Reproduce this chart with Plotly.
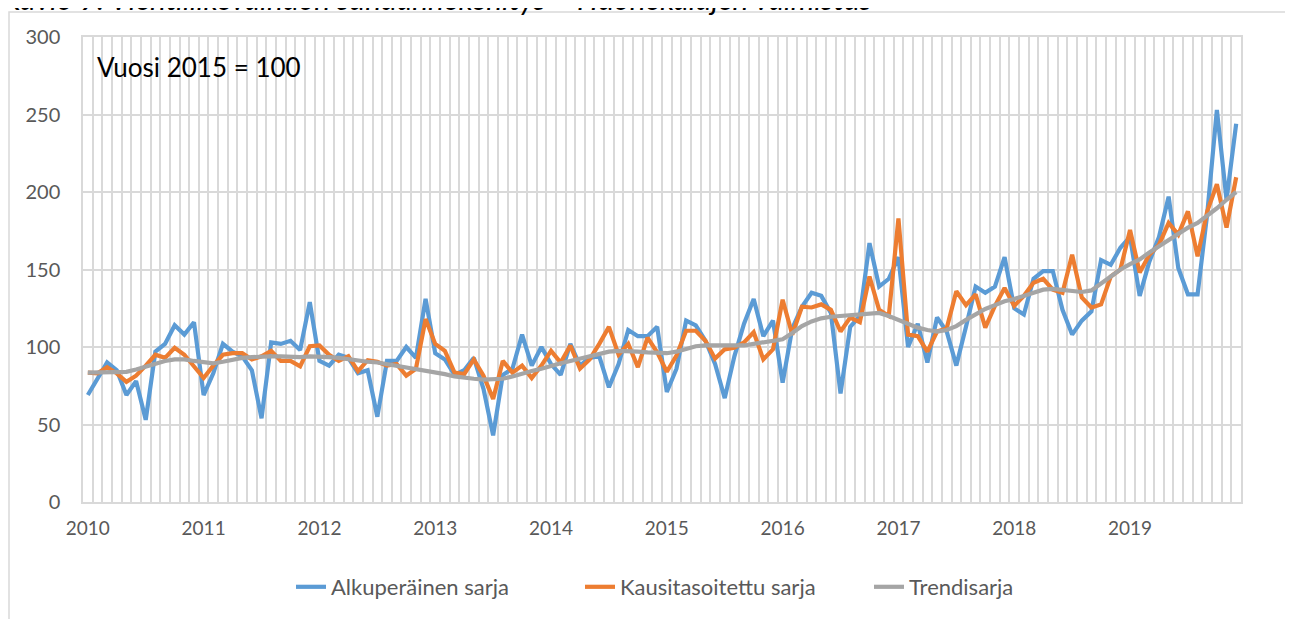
import plotly.graph_objects as go

years = ["2010", "2011", "2012", "2013", "2014", "2015", "2016", "2017", "2018", "2019"]
months = list(range(120))

alkuperainen = [
    69, 79, 90, 85, 69, 78, 53, 97, 102, 114, 108, 116,
    69, 83, 102, 97, 94, 85, 54, 103, 102, 104, 98, 129,
    91, 88, 95, 93, 83, 85, 55, 91, 91, 100, 93, 131,
    96, 92, 82, 85, 93, 73, 43, 82, 86, 108, 88, 100,
    89, 82, 102, 88, 93, 94, 74, 89, 111, 107, 107, 113,
    71, 86, 117, 114, 104, 89, 67, 94, 115, 131, 107, 117,
    77, 112, 126, 135, 133, 122, 70, 113, 120, 167, 139, 144,
    158, 100, 115, 90, 119, 110, 88, 113, 139, 135, 139, 158,
    125, 121, 144, 149, 149, 124, 108, 117, 123, 156, 153, 164,
    171, 133, 155, 171, 197, 151, 134, 134, 186, 253, 195, 244,
]

kausitasoitettu = [
    83.5, 83, 87, 83, 77.5, 81.5, 88, 95, 93, 99.5, 95, 88,
    80, 88, 95, 96, 96, 92, 94, 97.5, 91, 91, 87.5, 100.5,
    101, 95, 91, 94, 84.5, 91.5, 90.5, 88, 89, 81.5, 86, 118,
    102, 97.5, 83.5, 82.5, 92, 81.5, 66.5, 91, 83.5, 88, 80, 88,
    97.5, 90, 101, 86, 92, 102, 113, 95, 102, 87, 106, 96.5,
    84, 94.5, 110.5, 110.5, 104, 92.5, 98.5, 99.5, 103, 109.5, 92, 98.5,
    130.5, 108, 126, 125.5, 127.5, 124, 110, 119, 116, 145.5, 124, 120,
    183, 108, 107, 97, 110, 112, 136, 127, 134, 112.5, 126.5, 138,
    126.5, 133, 141.5, 144, 137, 135, 159.5, 132, 125.5, 127.5, 145.5, 150,
    175.5, 148, 159.5, 166, 180, 172.5, 187.5, 158.5, 187.5, 205, 177, 209.5,
]

trendi = [
    83.5, 83.5, 83.5, 83.5, 84, 85.5, 87.5, 89.5, 91, 92, 92, 91,
    90, 89.5, 90.5, 92, 93, 93.5, 94, 94, 94, 93.5, 93.5, 94,
    94, 93.5, 93, 92, 91.5, 90.5, 90, 89, 88, 87, 86, 85,
    83.5, 82.5, 81, 80, 79.5, 79, 79, 79.5, 81, 83, 84.5, 86,
    88, 89.5, 91, 92.5, 94, 95.5, 97, 97.5, 97.5, 97, 96.5, 96.5,
    96, 97, 99, 100.5, 101, 101, 100.5, 100.5, 101, 102, 103, 103.5,
    105, 109, 113.5, 116.5, 118.5, 119.5, 120, 120.5, 121, 122, 122, 120,
    117.5, 115, 112.5, 111, 110, 111, 113.5, 117.5, 121, 124.5, 127, 129.5,
    131, 133, 135, 137, 137.5, 137, 136, 135.5, 136.5, 141, 145.5, 150,
    153.5, 156.5, 161, 165, 169.5, 173.5, 177, 180, 184.5, 189.5, 195, 200,
]

series_names = ["Alkuperäinen sarja", "Kausitasoitettu sarja", "Trendisarja"]
series_colors = ["#5B9BD5", "#ED7D31", "#A5A5A5"]

OFF = 8  # page body margin
W, H = 1293 - OFF, 619 - OFF
# plot area in page pixels
L, R, T, B = 83, 1241, 37, 503
FONT = "Lato"
GRID = "#D9D9D9"


def px_x(p):
    return (p - L) / (R - L)


def px_y(p):
    return (B - p) / (B - T)


fig = go.Figure()
for name, vals, col in zip(series_names, [alkuperainen, kausitasoitettu, trendi], series_colors):
    fig.add_trace(go.Scatter(
        x=months, y=vals, mode="lines", name=name,
        line=dict(color=col, width=4.2),
    ))

fig.update_layout(
    width=W, height=H,
    margin=dict(l=L - OFF, r=1293 - R, t=T - OFF, b=619 - B),
    paper_bgcolor="white", plot_bgcolor="white",
    font=dict(family=FONT, color="#595959", size=19),
    showlegend=True,
    legend=dict(orientation="h", x=px_x(291), xanchor="left", y=px_y(587), yanchor="middle",
                font=dict(size=22, color="#595959"),
                entrywidth=244, entrywidthmode="pixels",
                tracegroupgap=0),
    xaxis=dict(
        range=[-0.5, 119.5], tickmode="array",
        tickvals=[12 * k for k in range(len(years))], ticktext=years,
        showgrid=False, zeroline=False, ticks="",
        showline=True, linecolor=GRID, linewidth=1.5, mirror=True,
        minor=dict(tick0=-0.5, dtick=1, showgrid=True, gridcolor=GRID, gridwidth=1.5, ticks=""),
        ticklabelstandoff=8, tickfont=dict(size=19, color="#595959"),
    ),
    yaxis=dict(
        range=[0, 300], tickmode="linear", tick0=0, dtick=50,
        showgrid=True, gridcolor=GRID, gridwidth=1.5, zeroline=False,
        showline=True, linecolor=GRID, linewidth=1.5, mirror=True,
        ticks="", ticklabelstandoff=17, tickfont=dict(size=20, color="#595959"),
    ),
    annotations=[
        dict(text="Vuosi 2015 = 100", xref="paper", yref="paper",
             x=px_x(95), y=px_y(67), xanchor="left", yanchor="middle",
             showarrow=False, font=dict(size=26, color="#000000", family=FONT)),
        dict(text="<i>Kuvio 9. Vientiliikevaihdon suhdannekehitys – Huonekalujen valmistus</i>",
             xref="paper", yref="paper", x=px_x(0), y=px_y(18), xanchor="left", yanchor="bottom",
             showarrow=False, font=dict(size=30, color="#000000", family=FONT)),
    ],
    shapes=[
        dict(type="rect", xref="paper", yref="paper",
             x0=px_x(9), x1=px_x(1288), y0=px_y(650), y1=px_y(12),
             line=dict(color=GRID, width=1.5), fillcolor="rgba(0,0,0,0)", layer="below"),
    ],
)

fig.write_html("out.html")
